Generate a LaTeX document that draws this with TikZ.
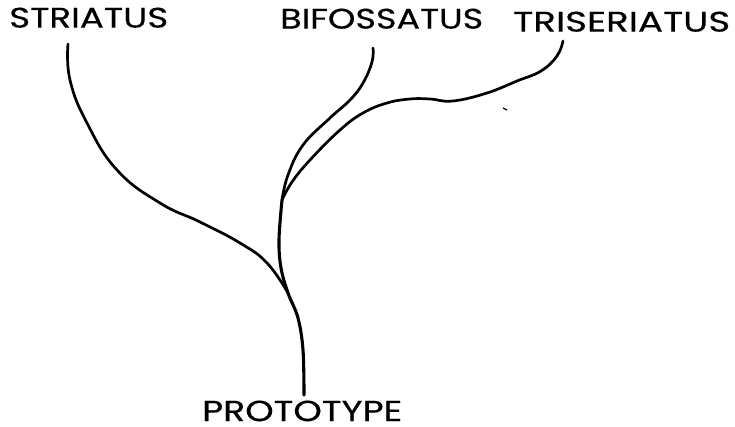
\documentclass[tikz,border=0pt]{standalone}
\usepackage{fontspec}
\setmainfont{Poppins}
\newfontfamily\lettering{Poppins}[FakeBold=0.35]
\usepackage{graphicx}
\begin{document}
\begin{tikzpicture}[x=1pt,y=-1pt,
  branch/.style={line width=2.7pt,line cap=round,line join=round},
  stem/.style={line width=3.1pt,line cap=round,line join=round},
  lbl/.style={inner sep=0pt,anchor=south west,font=\lettering}]
\useasboundingbox (0,0) rectangle (735,427);
% labels
\node[lbl] (striatus) at (9,28) {\resizebox{159pt}{20pt}{STRIATUS}};
\node[lbl] (bifossatus) at (280,29) {\resizebox{203pt}{20pt}{BIFOSSATUS}};
\node[lbl] (triseriatus) at (513,32) {\resizebox{217pt}{20pt}{TRISERIATUS}};
\node[lbl] (prototype) at (202,421.5) {\resizebox{200pt}{20.5pt}{PROTOTYPE}};
% branch ends and junctions
\coordinate (sTop) at (68,44);
\coordinate (bTop) at (373,48);
\coordinate (tTop) at (563,41);
\coordinate (jUp) at (282,200);
\coordinate (jLow) at (288,293);
\coordinate (pBot) at (304,395);
% main stem
\draw[stem] plot[smooth,tension=0.6] coordinates {(jUp) (279,240) (281,268) (jLow) (298,318) (303,350) (pBot)};
% striatus
\draw[branch] plot[smooth,tension=0.75] coordinates {(sTop) (70,80) (87,123) (117,170) (160,203) (200,222) (240,243) (267,263) (jLow)};
% bifossatus
\draw[branch] plot[smooth,tension=0.7] coordinates {(bTop) (372,62) (363,83) (350,100) (330,118) (303,145) (288,175) (jUp)};
% triseriatus
\draw[branch] plot[smooth,tension=0.7] coordinates {(tTop) (557,56) (541,71) (517,81) (487,93) (453,101) (430,99) (410,99) (387,103) (363,113) (340,130) (310,160) (292,182) (jUp)};
% speck
\coordinate (sp1) at (503,108);
\coordinate (sp2) at (507,110);
\draw[line width=1.2pt] (sp1) -- (sp2);
\end{tikzpicture}
\end{document}
